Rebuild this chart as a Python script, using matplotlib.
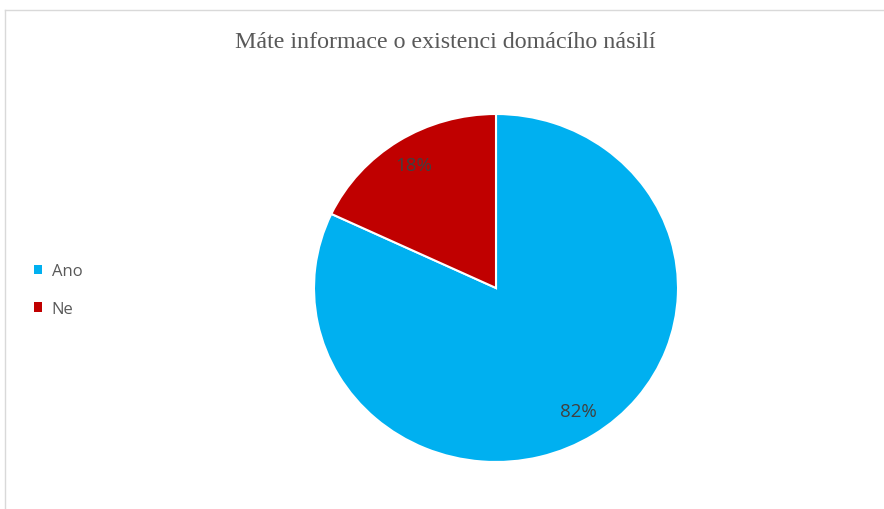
import matplotlib.pyplot as plt
from matplotlib.patches import Patch
from matplotlib.lines import Line2D

# data
labels = ['Ano', 'Ne']
values = [82, 18]
colors = ['#00b0f0', '#c00000']
title = 'Máte informace o existenci domácího násilí'

W, H = 884, 510
fig = plt.figure(figsize=(W / 100, H / 100), dpi=100)

# pie spans x 314..678, y 115..463 (pixels)
ax = fig.add_axes([314 / W, (H - 463) / H, 364 / W, 348 / H])
wedges, texts, autotexts = ax.pie(values, colors=colors, startangle=90, counterclock=False,
                                  autopct='%1.0f%%', pctdistance=0.84,
                                  wedgeprops=dict(edgecolor='white', linewidth=1.5),
                                  textprops=dict(color='#404040', fontsize=13.5, family='Open Sans'))
ax.set_aspect('auto')
ax.set_xlim(-1, 1)
ax.set_ylim(-1, 1)

fig.text(445 / W, 1 - 43 / H, title, ha='center', va='center', fontsize=17.3,
         family='Liberation Serif', color='#595959')

handles = [Patch(facecolor=c, edgecolor='none') for c in colors]
fig.legend(handles, labels, loc='center left', bbox_to_anchor=(34 / W, 1 - 291 / H),
           frameon=False, handlelength=0.5, handleheight=0.5,
           handletextpad=0.55, labelspacing=1.3, borderpad=0, borderaxespad=0,
           labelcolor='#595959', prop=dict(family='Open Sans', size=12))

# chart border (top and left only visible)
fig.add_artist(Line2D([4.5 / W, 1], [1 - 11 / H, 1 - 11 / H], color='#d9d9d9', lw=1))
fig.add_artist(Line2D([4.5 / W, 4.5 / W], [0, 1 - 11 / H], color='#d9d9d9', lw=1))

fig.savefig('out.png', dpi=100)
